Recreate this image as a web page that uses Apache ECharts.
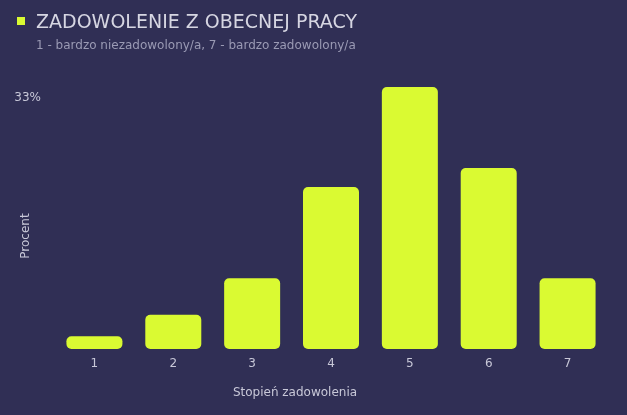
<!DOCTYPE html>
<html>
<head>
<meta charset="utf-8">
<script src="https://cdn.jsdelivr.net/npm/echarts@6/dist/echarts.min.js"></script>
<style>
  html, body { margin: 0; padding: 0; background: #302f55; }
  #chart { width: 627px; height: 415px; }
</style>
</head>
<body>
<div id="chart"></div>
<script>
// satisfaction levels 1..7, share of respondents in %
const categories = ['1', '2', '3', '4', '5', '6', '7'];
const values = [1.6, 4.3, 8.9, 20.4, 33, 22.8, 8.9];
const yMax = 33;

const chart = echarts.init(document.getElementById('chart'));
const font = 'DejaVu Sans';

const option = {
  backgroundColor: '#302f55',
  animation: false,
  title: {
    text: 'ZADOWOLENIE Z OBECNEJ PRACY',
    subtext: '1 - bardzo niezadowolony/a, 7 - bardzo zadowolony/a',
    left: 36,
    top: 14,
    padding: 0,
    itemGap: 7,
    textStyle: { color: '#d6d6e2', fontSize: 19, fontWeight: 'normal', fontFamily: font },
    subtextStyle: { color: '#9a9ab4', fontSize: 12, fontFamily: font }
  },
  graphic: [{
    type: 'rect',
    left: 17, top: 17,
    shape: { width: 8, height: 8 },
    style: { fill: '#dafa32' }
  }],
  grid: { left: 55, right: 20, top: 87, bottom: 66, containLabel: false, outerBoundsMode: 'none' },
  xAxis: {
    type: 'category',
    data: categories,
    axisLine: { show: false },
    axisTick: { show: false },
    axisLabel: { color: '#c8c8d8', fontSize: 12, fontFamily: font, margin: 9 },
    name: 'Stopień zadowolenia',
    nameLocation: 'middle',
    nameGap: 38,
    nameTextStyle: { color: '#c8c8d8', fontSize: 12, fontFamily: font, padding: [0, 72, 0, 0] }
  },
  yAxis: {
    type: 'value',
    min: 0,
    max: yMax,
    interval: yMax,
    splitLine: { show: false },
    axisLine: { show: false },
    axisTick: { show: false },
    axisLabel: {
      color: '#c8c8d8', fontSize: 12, fontFamily: font, margin: 14,
      verticalAlign: 'top',
      padding: [5, 0, 0, 0],
      formatter: v => (v === yMax ? v + '%' : '')
    },
    name: 'Procent',
    nameLocation: 'middle',
    nameMoveOverlap: false,
    nameGap: 23,
    nameTextStyle: { color: '#c8c8d8', fontSize: 12, fontFamily: font, padding: [0, 36, 0, 0] }
  },
  series: [{
    type: 'bar',
    data: values,
    barWidth: 56,
    itemStyle: { color: '#dafa32', borderRadius: 5 }
  }]
};

chart.setOption(option);
</script>
</body>
</html>
